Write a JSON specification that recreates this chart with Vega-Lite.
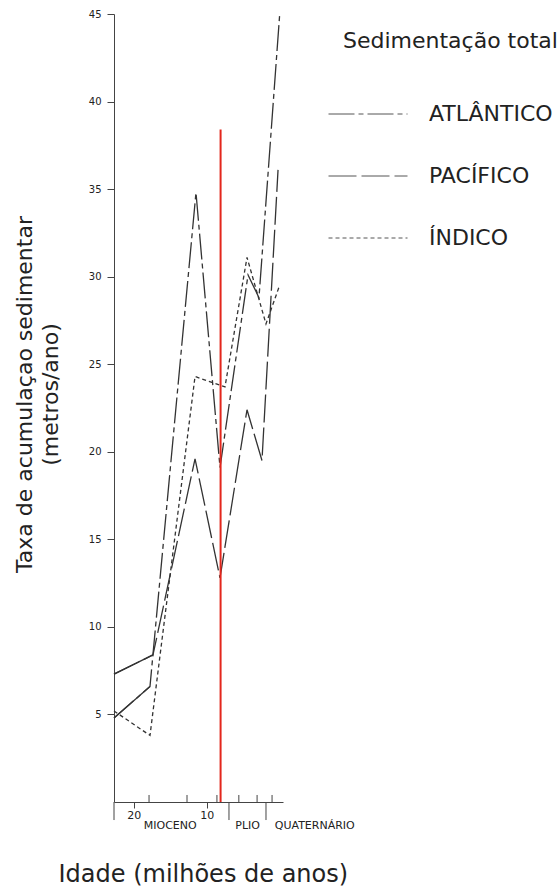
{
  "$schema": "https://vega.github.io/schema/vega-lite/v6.json",
  "width": 169,
  "height": 788,
  "autosize": {"type": "none"},
  "padding": {"left": 114, "top": 14, "right": 276, "bottom": 86},
  "background": "white",
  "config": {
    "view": {"stroke": null},
    "font": "DejaVu Sans",
    "axis": {"grid": false}
  },
  "datasets": {
    "series": [
      {"ocean": "ATLÂNTICO", "age": 22.7, "rate": 4.8},
      {"ocean": "ATLÂNTICO", "age": 17.77, "rate": 6.6},
      {"ocean": "ATLÂNTICO", "age": 11.47, "rate": 34.8},
      {"ocean": "ATLÂNTICO", "age": 8.18, "rate": 19.1},
      {"ocean": "ATLÂNTICO", "age": 4.34, "rate": 30.1},
      {"ocean": "ATLÂNTICO", "age": 2.84, "rate": 28.8},
      {"ocean": "ATLÂNTICO", "age": 0.0, "rate": 45.0},
      {"ocean": "PACÍFICO", "age": 22.7, "rate": 7.3},
      {"ocean": "PACÍFICO", "age": 17.36, "rate": 8.4},
      {"ocean": "PACÍFICO", "age": 11.6, "rate": 19.6},
      {"ocean": "PACÍFICO", "age": 8.18, "rate": 12.8},
      {"ocean": "PACÍFICO", "age": 4.48, "rate": 22.4},
      {"ocean": "PACÍFICO", "age": 2.43, "rate": 19.5},
      {"ocean": "PACÍFICO", "age": 0.23, "rate": 36.1},
      {"ocean": "ÍNDICO", "age": 22.7, "rate": 5.2},
      {"ocean": "ÍNDICO", "age": 17.77, "rate": 3.8},
      {"ocean": "ÍNDICO", "age": 11.6, "rate": 24.3},
      {"ocean": "ÍNDICO", "age": 7.5, "rate": 23.7},
      {"ocean": "ÍNDICO", "age": 4.48, "rate": 31.1},
      {"ocean": "ÍNDICO", "age": 1.88, "rate": 27.3},
      {"ocean": "ÍNDICO", "age": 0.1, "rate": 29.4}
    ],
    "ticks": [
      {"age": 17.9, "lo": 0, "hi": 0.4},
      {"age": 12.7, "lo": 0, "hi": 0.4},
      {"age": 8.6, "lo": 0, "hi": 0.4},
      {"age": 5.6, "lo": 0, "hi": 0.4},
      {"age": 3.1, "lo": 0, "hi": 0.4},
      {"age": 1.05, "lo": 0, "hi": 0.4},
      {"age": 22.7, "lo": 0, "hi": -1.03},
      {"age": 6.95, "lo": 0, "hi": -1.03},
      {"age": 1.88, "lo": 0, "hi": -1.03}
    ],
    "epochs": [
      {"age": 15.0, "pos": -1.35, "label": "MIOCENO"},
      {"age": 4.4, "pos": -1.35, "label": "PLIO"},
      {"age": -4.8, "pos": -1.35, "label": "QUATERNÁRIO"}
    ],
    "marker": [{"age": 8.1, "lo": 0, "top": 38.4}]
  },
  "layer": [
    {
      "data": {"name": "series"},
      "mark": {"type": "line", "stroke": "#333333", "strokeWidth": 1.3},
      "encoding": {
        "x": {
          "field": "age",
          "type": "quantitative",
          "scale": {"domain": [22.7, -0.45], "nice": false, "zero": false},
          "axis": {
            "values": [20, 10],
            "format": "d",
            "title": "Idade (milhões de anos)",
            "domainColor": "#444444",
            "tickColor": "#444444",
            "tickSize": 6,
            "labelFontSize": 11,
            "labelColor": "#222222",
            "labelPadding": 1,
            "titleFontSize": 24,
            "titleFontWeight": "normal",
            "titleColor": "#222222",
            "titleAnchor": "start",
            "titleAlign": "left",
            "titleBaseline": "alphabetic",
            "titleX": -56,
            "titleY": 79
          }
        },
        "y": {
          "field": "rate",
          "type": "quantitative",
          "scale": {"domain": [0, 45], "nice": false, "zero": false},
          "axis": {
            "values": [5, 10, 15, 20, 25, 30, 35, 40, 45],
            "title": ["Taxa de acumulaçao sedimentar", "(metros/ano)"],
            "domainColor": "#444444",
            "tickColor": "#444444",
            "tickSize": 7,
            "labelFontSize": 10,
            "labelColor": "#222222",
            "labelPadding": 6,
            "titleFontSize": 22,
            "titleFontWeight": "normal",
            "titleColor": "#222222",
            "titleAngle": -90,
            "titleAlign": "center",
            "titleBaseline": "alphabetic",
            "titleLineHeight": 26,
            "titleX": -83,
            "titleY": 380
          }
        },
        "strokeDash": {
          "field": "ocean",
          "type": "nominal",
          "scale": {
            "domain": ["ATLÂNTICO", "PACÍFICO", "ÍNDICO"],
            "range": [[26, 4, 5, 4], [28, 5], [4, 3]]
          },
          "legend": {
            "orient": "none",
            "legendX": 229,
            "legendY": 17,
            "title": "Sedimentação total",
            "titleFontSize": 22,
            "titleFontWeight": "normal",
            "titleColor": "#222222",
            "titleLimit": 400,
            "titlePadding": 21,
            "labelFontSize": 22,
            "labelLimit": 400,
            "labelColor": "#222222",
            "symbolType": "stroke",
            "symbolSize": 6241,
            "symbolStrokeWidth": 1,
            "symbolStrokeColor": "#555555",
            "symbolOffset": -15,
            "labelOffset": 21,
            "rowPadding": 11,
            "padding": 0
          }
        }
      }
    },
    {
      "data": {"name": "series"},
      "transform": [{"filter": "datum.age > 17 && datum.ocean != 'ÍNDICO'"}],
      "mark": {"type": "line", "stroke": "#333333", "strokeWidth": 1.3},
      "encoding": {
        "x": {"field": "age", "type": "quantitative"},
        "y": {"field": "rate", "type": "quantitative"},
        "detail": {"field": "ocean", "type": "nominal"}
      }
    },
    {
      "data": {"name": "ticks"},
      "mark": {"type": "rule", "stroke": "#444444", "strokeWidth": 1},
      "encoding": {
        "x": {"field": "age", "type": "quantitative"},
        "y": {"field": "lo", "type": "quantitative"},
        "y2": {"field": "hi"}
      }
    },
    {
      "data": {"name": "epochs"},
      "mark": {"type": "text", "fontSize": 11, "color": "#222222", "align": "center", "baseline": "middle"},
      "encoding": {
        "x": {"field": "age", "type": "quantitative"},
        "y": {"field": "pos", "type": "quantitative"},
        "text": {"field": "label", "type": "nominal"}
      }
    },
    {
      "data": {"name": "marker"},
      "mark": {"type": "rule", "stroke": "#e3261c", "strokeWidth": 2},
      "encoding": {
        "x": {"field": "age", "type": "quantitative"},
        "y": {"field": "lo", "type": "quantitative"},
        "y2": {"field": "top"}
      }
    }
  ]
}
